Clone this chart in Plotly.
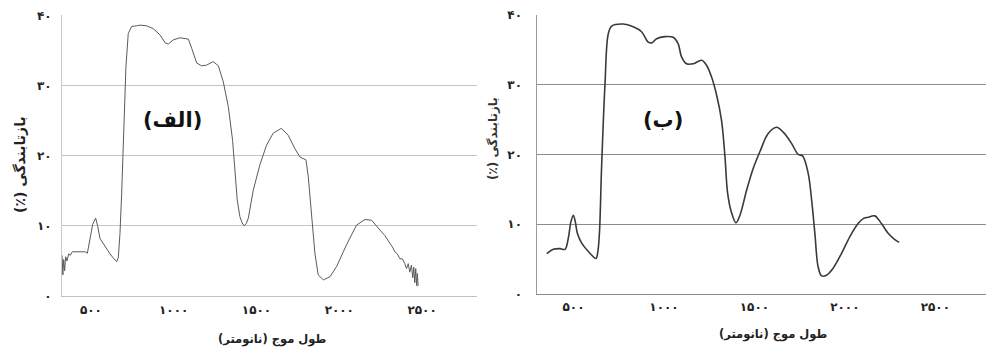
import plotly.graph_objects as go

# ---------- data ----------
wl_a = [350, 355, 360, 366, 372, 380, 390, 400, 412, 430, 460, 490, 503, 520, 535, 553, 565, 579,
        600, 619, 640, 660, 680, 690, 700, 710, 720, 728, 736, 750, 770, 800, 821, 861, 901, 942,
        972, 992, 1022, 1062, 1113, 1133, 1163, 1193, 1223, 1263, 1294, 1324, 1354, 1380, 1394,
        1408, 1424, 1438, 1450, 1462, 1475, 1505, 1545, 1585, 1625, 1675, 1716, 1756, 1787, 1823,
        1837, 1857, 1877, 1897, 1928, 1968, 2008, 2068, 2128, 2179, 2219, 2270, 2300, 2330, 2345,
        2360, 2375, 2390, 2405, 2420, 2430, 2441, 2450, 2460, 2468, 2474, 2480, 2486, 2491, 2496, 2500]
refl_a = [5.8, 3.0, 5.2, 3.6, 5.6, 5.0, 6.0, 5.8, 6.3, 6.3, 6.2, 6.3, 6.1, 8.0, 10.2, 11.1, 10.0, 8.2,
          7.4, 6.8, 6.0, 5.4, 4.9, 5.5, 8.9, 14.5, 20.8, 27.0, 32.7, 37.4, 38.4, 38.5, 38.6, 38.5,
          38.1, 37.2, 36.1, 35.9, 36.5, 36.8, 36.6, 35.3, 33.2, 32.8, 32.9, 33.4, 32.8, 30.5, 27.0,
          22.2, 18.4, 13.7, 11.3, 10.4, 10.0, 10.3, 11.1, 15.1, 18.7, 21.5, 23.2, 23.9, 22.9, 21.0,
          19.8, 19.4, 17.0, 11.8, 6.1, 3.0, 2.3, 2.75, 4.2, 7.3, 10.1, 10.9, 10.8, 9.4, 8.6, 7.5, 7.0,
          6.3, 6.0, 5.3, 5.3, 4.6, 3.9, 4.6, 3.4, 4.4, 2.6, 4.1, 1.9, 3.9, 1.5, 3.2, 1.4]

wl_b = [402, 438, 475, 503, 521, 535, 549, 560, 571, 595, 632, 674, 684, 693, 705, 724, 742, 761,
        825, 880, 926, 963, 982, 1009, 1055, 1101, 1128, 1147, 1175, 1212, 1258, 1285, 1313, 1341,
        1368, 1387, 1402, 1424, 1448, 1470, 1507, 1543, 1580, 1626, 1672, 1709, 1755, 1792, 1816,
        1847, 1866, 1884, 1902, 1921, 1948, 1985, 2031, 2077, 2123, 2151, 2178, 2215, 2252, 2289,
        2326, 2350]
refl_b = [5.8, 6.4, 6.5, 6.4, 8.0, 10.3, 11.3, 10.3, 8.7, 7.3, 6.1, 5.1, 6.0, 8.7, 18.2, 30.2, 37.3,
          38.4, 38.7, 38.3, 37.6, 36.1, 36.0, 36.6, 36.9, 36.8, 35.9, 34.0, 33.0, 33.0, 33.5, 32.8,
          31.1, 28.5, 24.9, 19.7, 14.4, 11.6, 10.2, 11.3, 14.9, 18.0, 20.4, 23.0, 23.9, 23.2, 21.6,
          20.0, 19.8, 17.3, 13.5, 8.7, 3.9, 2.6, 2.7, 3.7, 5.8, 8.2, 10.1, 10.8, 11.0, 11.2, 10.1,
          8.7, 7.8, 7.4]

x_tickvals = [500, 1000, 1500, 2000, 2500]
x_ticktext = ["۵۰۰", "۱۰۰۰", "۱۵۰۰", "۲۰۰۰", "۲۵۰۰"]
y_tickvals = [0, 10, 20, 30, 40]
y_ticktext = ["۰", "۱۰", "۲۰", "۳۰", "۴۰"]

y_title = "بازتابندگی (٪)"
x_title = "طول موج (نانومتر)"
label_a = "(الف)"
label_b = "(ب)"

FONT = "DejaVu Sans"
RLE, PDF = "\u202B", "\u202C"


def rtl(s):
    return RLE + s + PDF


fig = go.Figure()
fig.add_trace(go.Scatter(x=wl_a, y=refl_a, mode="lines", line=dict(color="#5a5a5a", width=1),
                         xaxis="x", yaxis="y", showlegend=False))
fig.add_trace(go.Scatter(x=wl_b, y=refl_b, mode="lines", line=dict(color="#3a3a3a", width=1.6, shape="spline"),
                         xaxis="x2", yaxis="y2", showlegend=False))

tickfont = dict(family=FONT, size=12, color="#222222", weight="bold")

fig.update_layout(
    width=986, height=351,
    margin=dict(l=0, r=0, t=0, b=0, autoexpand=False),
    paper_bgcolor="white", plot_bgcolor="white",
    xaxis=dict(domain=[0.0629, 0.4838], range=[350, 2856], tickvals=x_tickvals, ticktext=x_ticktext,
               showgrid=False, zeroline=False, showline=True, linecolor="#c0c0c0", linewidth=1,
               tickfont=tickfont, ticks="", anchor="y", automargin=False, ticklabelstandoff=3,
               ticklabelshift=4),
    yaxis=dict(domain=[0.1567, 0.9564], range=[0, 40], tickvals=y_tickvals, ticktext=y_ticktext,
               showgrid=True, gridcolor="#c4c4c4", gridwidth=1, zeroline=False, showline=True,
               linecolor="#c8c8c8", linewidth=1, tickfont=tickfont, ticks="", ticklabelstandoff=7,
               anchor="x", automargin=False),
    xaxis2=dict(domain=[0.545, 1.0], range=[350, 2830], tickvals=x_tickvals, ticktext=x_ticktext,
                showgrid=False, zeroline=False, showline=True, linecolor="#8a8a8a", linewidth=1,
                tickfont=tickfont, ticks="", anchor="y2", automargin=False, ticklabelstandoff=2,
                ticklabelshift=9),
    yaxis2=dict(domain=[0.1624, 0.9573], range=[0, 40], tickvals=y_tickvals, ticktext=y_ticktext,
                showgrid=True, gridcolor="#8c8c8c", gridwidth=1, zeroline=False, showline=True,
                linecolor="#9a9a9a", linewidth=1, tickfont=tickfont, ticks="", ticklabelstandoff=12,
                anchor="x2", automargin=False),
)

ann = []
# left panel titles
ann.append(dict(text="<b>" + rtl(y_title) + "</b>", x=20 / 986, y=1 - 165 / 351, xref="paper", yref="paper",
                textangle=-90, showarrow=False, font=dict(family=FONT, size=14, color="#222222"),
                xanchor="center", yanchor="middle"))
ann.append(dict(text="<b>" + rtl(x_title) + "</b>", x=272 / 986, y=1 - 339 / 351, xref="paper", yref="paper",
                showarrow=False, font=dict(family=FONT, size=11.5, color="#222222"),
                xanchor="center", yanchor="middle"))
ann.append(dict(text="<b>" + rtl(label_a) + "</b>", x=172 / 986, y=1 - 120 / 351, xref="paper", yref="paper",
                showarrow=False, font=dict(family=FONT, size=21, color="#111111"),
                xanchor="center", yanchor="middle"))
# right panel titles
ann.append(dict(text="<b>" + rtl(y_title) + "</b>", x=493 / 986, y=1 - 139 / 351, xref="paper", yref="paper",
                textangle=-90, showarrow=False, font=dict(family=FONT, size=12, color="#333333"),
                xanchor="center", yanchor="middle"))
ann.append(dict(text="<b>" + rtl(x_title) + "</b>", x=773 / 986, y=1 - 334 / 351, xref="paper", yref="paper",
                showarrow=False, font=dict(family=FONT, size=11.5, color="#222222"),
                xanchor="center", yanchor="middle"))
ann.append(dict(text="<b>" + rtl(label_b) + "</b>", x=663 / 986, y=1 - 120 / 351, xref="paper", yref="paper",
                showarrow=False, font=dict(family=FONT, size=21, color="#111111"),
                xanchor="center", yanchor="middle"))
fig.update_layout(annotations=ann)

fig.write_html("out.html", config={"displayModeBar": False},
               post_script="document.body.style.margin='0';document.body.style.overflow='hidden';")
